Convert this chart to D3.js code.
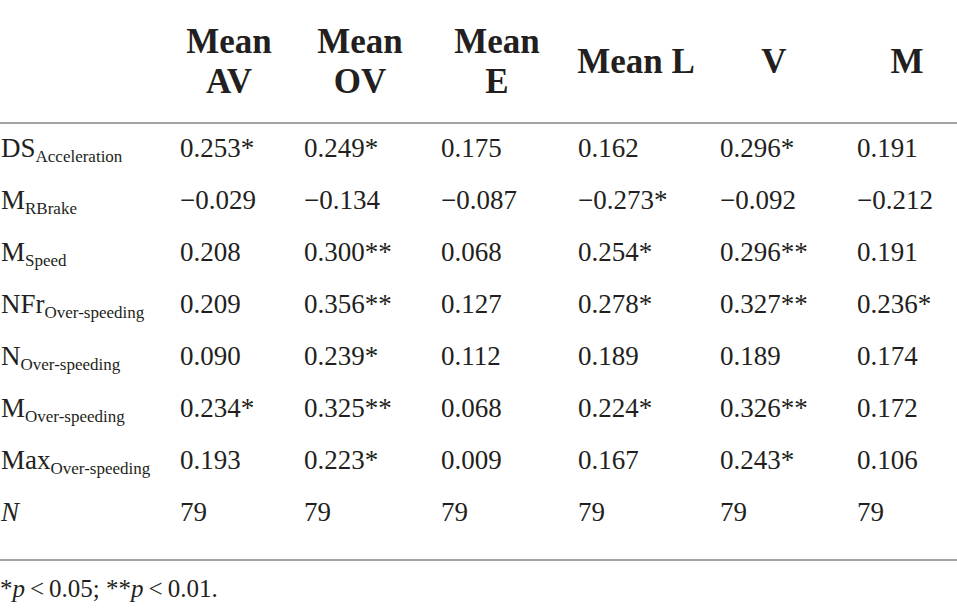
<!DOCTYPE html>
<html>
<head>
<meta charset="utf-8">
<script src="https://cdn.jsdelivr.net/npm/d3@7"></script>
<style>
  body { margin: 0; background: #fff; }
  text { font-family: "Liberation Serif", "DejaVu Serif", serif; fill: #231f20; }
</style>
</head>
<body>
<div id="tabla"></div>
<script>
// column headers (one or two lines each)
var headers = [["Mean", "AV"], ["Mean", "OV"], ["Mean", "E"], ["Mean L"], ["V"], ["M"]];

// row labels: main part + subscript
var rowMain = ["DS", "M", "M", "NFr", "N", "M", "Max", "N"];
var rowSub = ["Acceleration", "RBrake", "Speed", "Over-speeding", "Over-speeding", "Over-speeding", "Over-speeding", ""];

// correlations per column, and number of stars (1: p<0.05, 2: p<0.01)
var meanAV = [0.253, -0.029, 0.208, 0.209, 0.090, 0.234, 0.193];
var starsAV = [1, 0, 0, 0, 0, 1, 0];
var meanOV = [0.249, -0.134, 0.300, 0.356, 0.239, 0.325, 0.223];
var starsOV = [1, 0, 2, 2, 1, 2, 1];
var meanE = [0.175, -0.087, 0.068, 0.127, 0.112, 0.068, 0.009];
var starsE = [0, 0, 0, 0, 0, 0, 0];
var meanL = [0.162, -0.273, 0.254, 0.278, 0.189, 0.224, 0.167];
var starsL = [0, 1, 1, 1, 0, 1, 0];
var valV = [0.296, -0.092, 0.296, 0.327, 0.189, 0.326, 0.243];
var starsV = [1, 0, 2, 2, 0, 2, 1];
var valM = [0.191, -0.212, 0.191, 0.236, 0.174, 0.172, 0.106];
var starsM = [0, 0, 0, 1, 0, 0, 0];
var sampleN = [79, 79, 79, 79, 79, 79];

var columnas = [meanAV, meanOV, meanE, meanL, valV, valM];
var estrellas = [starsAV, starsOV, starsE, starsL, starsV, starsM];

var width = 957, height = 614;

var svg = d3.select('#tabla')
    .append('svg')
    .attr('width', width)
    .attr('height', height);

var colIdx = d3.range(0, headers.length);
var rowIdx = d3.range(0, rowMain.length);

var x = d3.scaleOrdinal()
    .domain(colIdx)
    .range([180, 304, 441, 578, 720, 857]);

var xHead = d3.scaleOrdinal()
    .domain(colIdx)
    .range([229, 360, 497, 636, 774, 907]);

var y = d3.scalePoint()
    .domain(rowIdx)
    .range([157, 521]);

var fmt = d3.format(".3f");
function celda(v, s) {
    var t = fmt(Math.abs(v));
    return (v < 0 ? "\u2212" : "") + t + "*".repeat(s);
}

// lines
svg.append("line")
    .attr("x1", 0).attr("x2", width)
    .attr("y1", 123).attr("y2", 123)
    .attr("stroke", "#a3a3a3").attr("stroke-width", 2);

svg.append("line")
    .attr("x1", 0).attr("x2", width)
    .attr("y1", 560).attr("y2", 560)
    .attr("stroke", "#a3a3a3").attr("stroke-width", 2);

// headers
var cab = svg.selectAll(".cab")
    .data(colIdx)
    .enter()
    .append("text")
    .attr("class", "cab")
    .attr("text-anchor", "middle")
    .attr("font-weight", "bold")
    .attr("font-size", 35)
    .attr("x", d => xHead(d))
    .attr("y", d => headers[d].length == 2 ? 53 : 73);

cab.selectAll("tspan")
    .data(d => headers[d].map(h => ({ h: h, c: d })))
    .enter()
    .append("tspan")
    .attr("x", d => xHead(d.c))
    .attr("dy", (d, i) => i == 0 ? 0 : 40)
    .text(d => d.h);

// row labels
var etiquetas = svg.selectAll(".fila")
    .data(rowIdx)
    .enter()
    .append("text")
    .attr("class", "fila")
    .attr("x", 1)
    .attr("y", d => y(d))
    .attr("font-size", 27);

etiquetas.append("tspan")
    .attr("font-style", d => rowSub[d] == "" ? "italic" : "normal")
    .text(d => rowMain[d]);

etiquetas.append("tspan")
    .attr("font-size", 17)
    .attr("dy", 5)
    .text(d => rowSub[d]);

// cells
colIdx.forEach(function (c) {
    var vals = columnas[c].map((v, i) => celda(v, estrellas[c][i]));
    vals.push(String(sampleN[c]));
    svg.selectAll(".c" + c)
        .data(vals)
        .enter()
        .append("text")
        .attr("class", "c" + c)
        .attr("x", x(c))
        .attr("y", (d, i) => y(i))
        .attr("font-size", 27)
        .text(d => d);
});

// footnote
var nota = svg.append("text")
    .attr("x", 0)
    .attr("y", 597)
    .attr("font-size", 25);
nota.append("tspan").text("*");
nota.append("tspan").attr("font-style", "italic").text("p");
nota.append("tspan").text("\u2009<\u20090.05; **");
nota.append("tspan").attr("font-style", "italic").text("p");
nota.append("tspan").text("\u2009<\u20090.01.");
</script>
</body>
</html>
